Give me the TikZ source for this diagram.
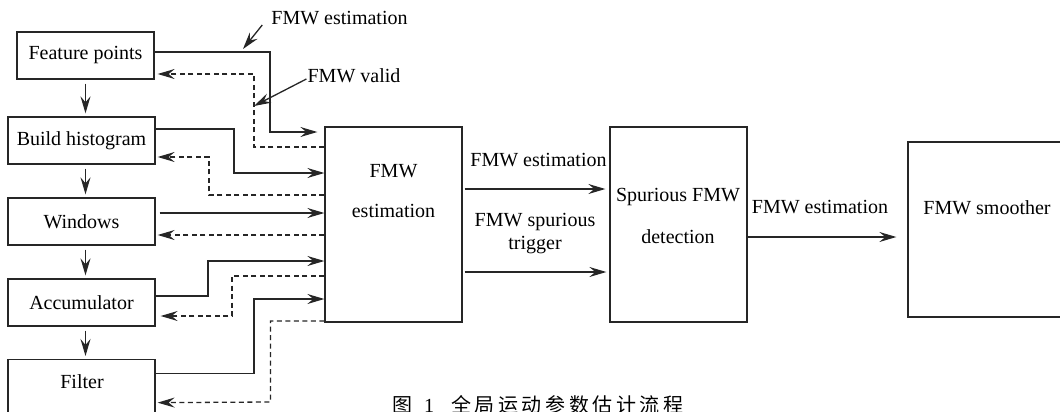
\documentclass[tikz,border=0pt]{standalone}
\usepackage{fontspec}
\setmainfont{Liberation Serif}
\newfontfamily\cjkfont[LetterSpace=18]{Noto Sans CJK SC}
\usetikzlibrary{arrows.meta}
\begin{document}
\begin{tikzpicture}[x=1pt,y=-1pt,
  font=\fontsize{20}{24}\selectfont,
  box/.style={draw=black!85, line width=1.3pt, inner sep=0pt},
  tx/.style={inner sep=0pt, align=center},
  arr/.style={draw=black!85, line width=1.3pt, -{Stealth[length=17pt,width=10pt,inset=6pt]}},
  back/.style={arr, dash pattern=on 5pt off 3.5pt},
]
\path[use as bounding box, fill=white] (0,0) rectangle (1060,412);

% left chain
\node[box, minimum width=137, minimum height=47] (fp) at (85.5,55.5) {Feature points};
\node[box, minimum width=147, minimum height=47] (bh) at (81.5,140.5) {Build histogram};
\node[box, minimum width=147, minimum height=47] (win) at (81.5,221.5) {Windows};
\node[box, minimum width=147, minimum height=47] (acc) at (81.5,302.5) {Accumulator};
\node[box, minimum width=147, minimum height=80, anchor=north] (flt) at (81.5,359) {};
\node[tx] (flttxt) at (82,382) {Filter};

% main boxes
\node[box, minimum width=137, minimum height=195] (est) at (393.5,224.5) {};
\node[tx, font=\fontsize{20}{40}\selectfont] (esttxt) at (393.5,191) {FMW\\estimation};
\node[box, minimum width=137, minimum height=195] (sp) at (678.5,224.5) {};
\node[tx, font=\fontsize{20}{42}\selectfont] (sptxt) at (678,216) {Spurious FMW\\detection};
\node[box, minimum width=167, minimum height=175] (sm) at (991.5,229.5) {};
\node[tx] (smtxt) at (987,208) {FMW smoother};

% labels
\node[tx] (l1) at (339.5,18) {FMW estimation};
\node[tx] (l2) at (354,76) {FMW valid};
\node[tx] (l3) at (538.5,160) {FMW estimation};
\node[tx, font=\fontsize{20}{23}\selectfont] (l4) at (535,233.5) {FMW spurious\\trigger};
\node[tx] (l5) at (820,207) {FMW estimation};

% caption
\node[inner sep=0pt, anchor=base west, font=\cjkfont\fontsize{20}{24}\selectfont] (cap) at (392,412)
  {图\hspace{12pt}{\rmfamily 1}\hspace{17pt}全局运动参数估计流程};

% vertical arrows
\draw[arr, shorten <=4pt, shorten >=3pt] (fp.south) -- (fp.south |- bh.north);
\draw[arr, shorten <=4pt, shorten >=3pt] (fp.south |- bh.south) -- (fp.south |- win.north);
\draw[arr, shorten <=4pt, shorten >=3pt] (fp.south |- win.south) -- (fp.south |- acc.north);
\draw[arr, shorten <=4pt, shorten >=3pt] (fp.south |- acc.south) -- (fp.south |- flt.north);

% solid to estimation
\draw[arr] ([yshift=3.5pt]fp.east) -| (270,132) -- ([xshift=-7pt,yshift=92.5pt]est.west);
\draw[arr] ([yshift=11.5pt]bh.east) -| (234,173) -- ([yshift=51.5pt]est.west);
\draw[arr] ([xshift=4pt,yshift=8.5pt]win.east) -- ([yshift=11.5pt]est.west);
\draw[arr] ([yshift=6.5pt]acc.east) -| (208,261) -- ([yshift=-36.5pt]est.west);
\draw[arr] ([yshift=26pt]flt.east) -| (254,299) -- ([yshift=-74.5pt]est.west);

% dashed back
\draw[back] ([yshift=77.5pt]est.west) -| (254,74) -- ([xshift=3pt,yshift=-18.5pt]fp.east);
\draw[back] ([yshift=29.5pt]est.west) -| (209,157) -- ([xshift=2pt,yshift=-16.5pt]bh.east);
\draw[back] ([yshift=-10.5pt]est.west) -- ([xshift=2pt,yshift=-13.5pt]win.east);
\draw[back] ([yshift=-51.5pt]est.west) -| (232,316) -- ([xshift=5pt,yshift=-13.5pt]acc.east);
\draw[back] ([yshift=-96.5pt]est.west) -| (270.5,402) -- ([xshift=2pt,yshift=-3pt]flt.east);

% estimation -> spurious -> smoother
\draw[arr] ([xshift=2pt,yshift=35.5pt]est.east) -- ([xshift=-4pt,yshift=35.5pt]sp.west);
\draw[arr] ([xshift=2pt,yshift=-47.5pt]est.east) -- ([xshift=-3pt,yshift=-47.5pt]sp.west);
\draw[arr] ([yshift=-12.5pt]sp.east) -- ([xshift=-11pt,yshift=-7.5pt]sm.west);

% pointers
\coordinate (p1) at (243,49);
\coordinate (p2) at (254,106);
\draw[arr] ([xshift=-9pt,yshift=-7pt]l1.west) -- (p1);
\draw[arr] ([xshift=-1pt,yshift=-3pt]l2.west) -- (p2);
\end{tikzpicture}
\end{document}
